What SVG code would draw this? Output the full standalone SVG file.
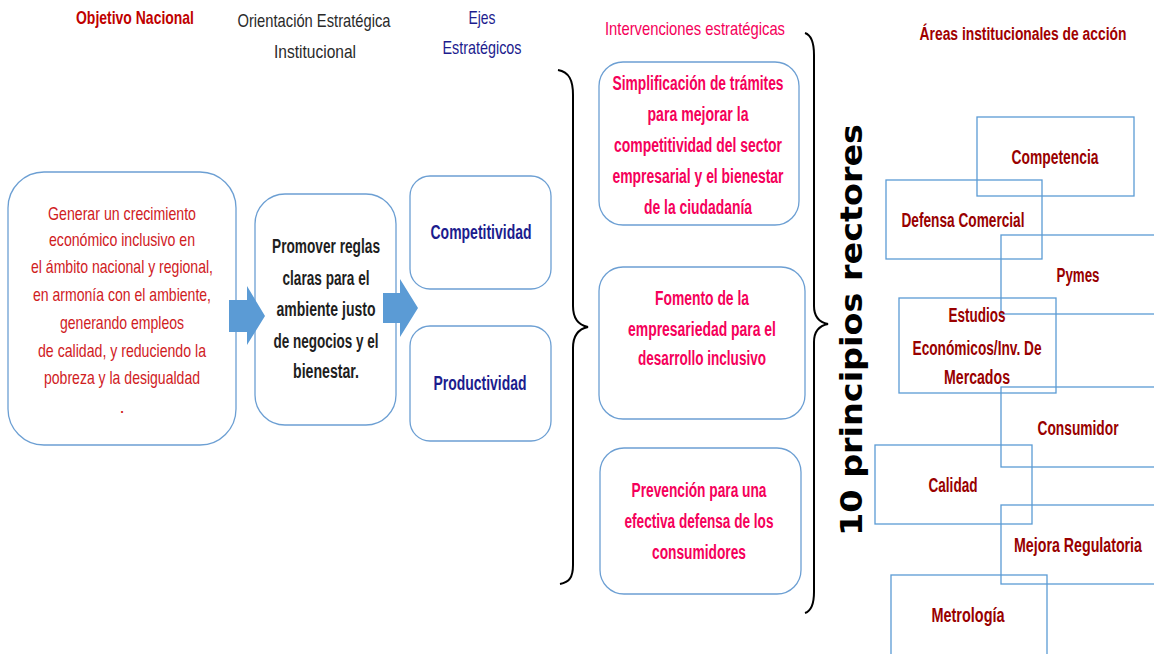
<svg xmlns="http://www.w3.org/2000/svg" width="1154" height="654" viewBox="0 0 1154 654">
<style>
text{font-family:"Liberation Sans",Arial,sans-serif;text-anchor:middle;}
.hdr{font-size:19px;}
.rbox{fill:#fff;stroke:#6C9FD3;stroke-width:1.3;}
.abox{fill:none;stroke:#5B9BD5;stroke-width:1.3;}
.obj{fill:#D0201E;font-size:18.5px;}
.ori{fill:#1E1E1E;font-size:20px;font-weight:bold;}
.eje{fill:#1C1C8E;font-size:20.5px;font-weight:bold;}
.int{fill:#F5005A;font-size:19.5px;font-weight:bold;}
.area{fill:#990000;font-size:20px;font-weight:bold;}
.arrow{fill:#5B9BD5;}
.brace{fill:none;stroke:#000;stroke-width:2;}
</style>
<rect width="1154" height="654" fill="#fff"/>

<g id="headers">
<text class="hdr" x="135" y="24" fill="#C00000" font-weight="bold" textLength="118" lengthAdjust="spacingAndGlyphs">Objetivo Nacional</text>
<text class="hdr" x="314" y="27" fill="#2A2A2A" textLength="153" lengthAdjust="spacingAndGlyphs">Orientación Estratégica</text>
<text class="hdr" x="315" y="58" fill="#2A2A2A" textLength="82" lengthAdjust="spacingAndGlyphs">Institucional</text>
<text class="hdr" x="482" y="24" fill="#1C1C8E" textLength="27" lengthAdjust="spacingAndGlyphs">Ejes</text>
<text class="hdr" x="482" y="54" fill="#1C1C8E" textLength="79" lengthAdjust="spacingAndGlyphs">Estratégicos</text>
<text class="hdr" x="695" y="35" fill="#F5005A" textLength="180" lengthAdjust="spacingAndGlyphs">Intervenciones estratégicas</text>
<text class="hdr" x="0" y="0" transform="translate(1023,40) scale(0.729,1)" fill="#A00000" font-weight="bold">Áreas institucionales de acción</text>
</g>

<g id="objetivo">
<rect class="rbox" x="8" y="172" width="228" height="273" rx="36"/>
<text class="obj" x="122" y="220" textLength="148" lengthAdjust="spacingAndGlyphs">Generar un crecimiento</text>
<text class="obj" x="122" y="246" textLength="146" lengthAdjust="spacingAndGlyphs">económico inclusivo en</text>
<text class="obj" x="122" y="273" textLength="182" lengthAdjust="spacingAndGlyphs">el ámbito nacional y regional,</text>
<text class="obj" x="122" y="301" textLength="178" lengthAdjust="spacingAndGlyphs">en armonía con el ambiente,</text>
<text class="obj" x="122" y="329" textLength="124" lengthAdjust="spacingAndGlyphs">generando empleos</text>
<text class="obj" x="122" y="357" textLength="168" lengthAdjust="spacingAndGlyphs">de calidad, y reduciendo la</text>
<text class="obj" x="122" y="384" textLength="156" lengthAdjust="spacingAndGlyphs">pobreza y la desigualdad</text>
<text class="obj" x="122" y="413">.</text>
</g>

<g id="orientacion">
<rect class="rbox" x="255" y="194" width="141" height="231" rx="30"/>
<text class="ori" x="326" y="253" textLength="108" lengthAdjust="spacingAndGlyphs">Promover reglas</text>
<text class="ori" x="326" y="285" textLength="87" lengthAdjust="spacingAndGlyphs">claras para el</text>
<text class="ori" x="326" y="316" textLength="99" lengthAdjust="spacingAndGlyphs">ambiente justo</text>
<text class="ori" x="326" y="348" textLength="105" lengthAdjust="spacingAndGlyphs">de negocios y el</text>
<text class="ori" x="326" y="378" textLength="66" lengthAdjust="spacingAndGlyphs">bienestar.</text>
</g>

<g id="eje-competitividad">
<rect class="rbox" x="410" y="176" width="141" height="113" rx="20"/>
<text class="eje" x="481" y="239" textLength="101" lengthAdjust="spacingAndGlyphs">Competitividad</text>
</g>
<g id="eje-productividad">
<rect class="rbox" x="410" y="326" width="141" height="115" rx="20"/>
<text class="eje" x="480" y="390" textLength="93" lengthAdjust="spacingAndGlyphs">Productividad</text>
</g>

<g id="int-simplificacion">
<rect class="rbox" x="599" y="62" width="200" height="163" rx="24"/>
<text class="int" x="698" y="90" textLength="171" lengthAdjust="spacingAndGlyphs">Simplificación de trámites</text>
<text class="int" x="698" y="121" textLength="101" lengthAdjust="spacingAndGlyphs">para mejorar la</text>
<text class="int" x="698" y="152" textLength="168" lengthAdjust="spacingAndGlyphs">competitividad del sector</text>
<text class="int" x="698" y="183" textLength="171" lengthAdjust="spacingAndGlyphs">empresarial y el bienestar</text>
<text class="int" x="698" y="214" textLength="108" lengthAdjust="spacingAndGlyphs">de la ciudadanía</text>
</g>
<g id="int-fomento">
<rect class="rbox" x="599" y="267" width="206" height="152" rx="24"/>
<text class="int" x="702" y="305" textLength="94" lengthAdjust="spacingAndGlyphs">Fomento de la</text>
<text class="int" x="702" y="336" textLength="148" lengthAdjust="spacingAndGlyphs">empresariedad para el</text>
<text class="int" x="702" y="365" textLength="128" lengthAdjust="spacingAndGlyphs">desarrollo inclusivo</text>
</g>
<g id="int-prevencion">
<rect class="rbox" x="600" y="448" width="201" height="146" rx="24"/>
<text class="int" x="699" y="497" textLength="135" lengthAdjust="spacingAndGlyphs">Prevención para una</text>
<text class="int" x="699" y="528" textLength="149" lengthAdjust="spacingAndGlyphs">efectiva defensa de los</text>
<text class="int" x="699" y="559" textLength="94" lengthAdjust="spacingAndGlyphs">consumidores</text>
</g>

<g id="principios">
<text x="0" y="0" transform="translate(862,330) rotate(-90)" style="font-family:'DejaVu Sans',Verdana,sans-serif;font-size:30px;font-weight:bold;fill:#000" textLength="412" lengthAdjust="spacingAndGlyphs">10 principios rectores</text>
</g>

<g id="area-competencia">
<rect class="abox" x="977" y="117" width="157" height="79"/>
<text class="area" x="1055" y="164" textLength="87" lengthAdjust="spacingAndGlyphs">Competencia</text>
</g>
<g id="area-defensa">
<rect class="abox" x="886" y="180" width="156" height="79"/>
<text class="area" x="963" y="227" textLength="123" lengthAdjust="spacingAndGlyphs">Defensa Comercial</text>
</g>
<g id="area-pymes">
<rect class="abox" x="1001" y="235" width="160" height="79"/>
<text class="area" x="1078" y="282" textLength="43" lengthAdjust="spacingAndGlyphs">Pymes</text>
</g>
<g id="area-estudios">
<rect class="abox" x="899" y="298" width="157" height="95"/>
<text class="area" x="977" y="322" textLength="57" lengthAdjust="spacingAndGlyphs">Estudios</text>
<text class="area" x="977" y="355" textLength="129" lengthAdjust="spacingAndGlyphs">Económicos/Inv. De</text>
<text class="area" x="977" y="384" textLength="66" lengthAdjust="spacingAndGlyphs">Mercados</text>
</g>
<g id="area-consumidor">
<rect class="abox" x="1001" y="387" width="160" height="80"/>
<text class="area" x="1078" y="435" textLength="81" lengthAdjust="spacingAndGlyphs">Consumidor</text>
</g>
<g id="area-calidad">
<rect class="abox" x="875" y="445" width="157" height="79"/>
<text class="area" x="953" y="492" textLength="49" lengthAdjust="spacingAndGlyphs">Calidad</text>
</g>
<g id="area-mejora">
<rect class="abox" x="1001" y="505" width="160" height="79"/>
<text class="area" x="0" y="0" transform="translate(1078,552) scale(0.711,1)">Mejora Regulatoria</text>
</g>
<g id="area-metrologia">
<rect class="abox" x="891" y="575" width="156" height="90"/>
<text class="area" x="968" y="622" textLength="73" lengthAdjust="spacingAndGlyphs">Metrología</text>
</g>

<g id="connectors">
<polygon class="arrow" points="229,300 247,300 247,286 265,316 247,345 247,332 229,332"/>
<polygon class="arrow" points="383,293 400,293 400,279 418,308 400,337 400,323 383,323"/>
<path class="brace" d="M558,70 C569,72 573,80 573,95 L573,306 C573,318 578,325 588,327 C578,329 573,336 573,348 L573,565 C573,578 569,582 560,584"/>
<path class="brace" d="M805,33 C811,35 814,42 814,55 L814,306 C814,316 818,322 828,324 C818,326 814,332 814,342 L814,592 C814,605 811,611 805,613"/>
</g>
</svg>
